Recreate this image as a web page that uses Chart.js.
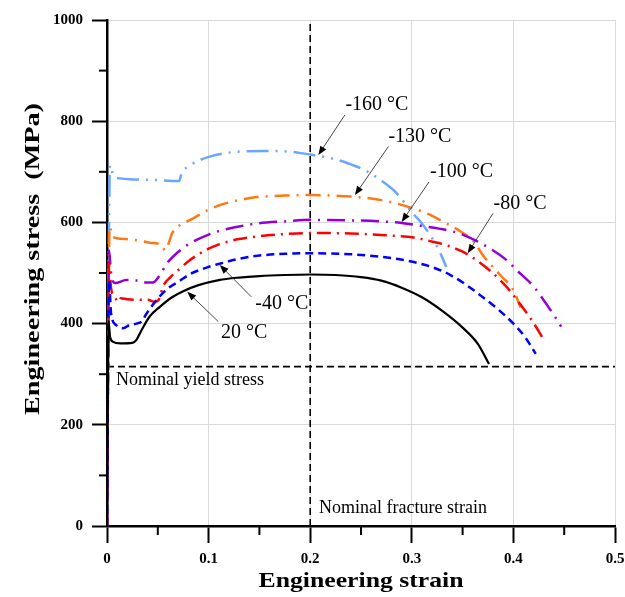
<!DOCTYPE html>
<html>
<head>
<meta charset="utf-8">
<script src="https://cdn.jsdelivr.net/npm/chart.js@4.4.0/dist/chart.umd.min.js"></script>
<style>
  html, body { margin: 0; padding: 0; background: #fff; }
  #graph { display: block; }
</style>
</head>
<body>
<canvas id="graph" width="625" height="597"></canvas>
<script>
// ticks
const xTicks = [0, 0.1, 0.2, 0.3, 0.4, 0.5];
const xMinor = [0.05, 0.15, 0.25, 0.35, 0.45];
const yTicks = [0, 200, 400, 600, 800, 1000];
const yMinor = [100, 300, 500, 700, 900];

// 20 °C
const strain20 = [0, 0.0015, 0.003, 0.006, 0.013, 0.025, 0.029, 0.034, 0.042, 0.052, 0.064, 0.075, 0.09, 0.11, 0.13, 0.15, 0.175, 0.2, 0.225, 0.25, 0.27, 0.29, 0.31, 0.33, 0.35, 0.365, 0.376];
const stress20 = [0, 405, 374, 364, 361, 362, 368, 387, 414, 433, 452, 464, 476, 486, 491, 494, 496, 497, 496, 492, 485, 471, 452, 425, 392, 360, 320];

// -40 °C
const strainM40 = [0, 0.002, 0.004, 0.009, 0.016, 0.022, 0.029, 0.034, 0.039, 0.049, 0.059, 0.072, 0.082, 0.1, 0.114, 0.13, 0.148, 0.175, 0.2, 0.24, 0.27, 0.288, 0.305, 0.321, 0.338, 0.354, 0.37, 0.385, 0.4, 0.412, 0.422];
const stressM40 = [0, 486, 420, 397, 391, 397, 400, 404, 420, 447, 468, 485, 498, 512, 520, 528, 534, 538, 539, 537, 532, 527, 520, 511, 496, 476, 452, 428, 400, 372, 340];

// -80 °C
const strainM80 = [0, 0.001, 0.002, 0.004, 0.0075, 0.0115, 0.0135, 0.02, 0.029, 0.04, 0.047, 0.051, 0.055, 0.063, 0.072, 0.082, 0.1, 0.114, 0.13, 0.147, 0.175, 0.2, 0.24, 0.27, 0.302, 0.318, 0.334, 0.348, 0.361, 0.375, 0.387, 0.397, 0.406, 0.419, 0.429];
const stressM80 = [0, 300, 520, 470, 453, 443, 450, 448, 447, 447, 443, 447, 473, 493, 509, 526, 548, 559, 567, 572, 577, 579, 578, 575, 570, 563, 555, 544, 529, 508, 486, 464, 440, 404, 371];

// -100 °C
const strainM100 = [0, 0.001, 0.002, 0.004, 0.008, 0.019, 0.029, 0.036, 0.045, 0.052, 0.059, 0.072, 0.082, 0.1, 0.114, 0.13, 0.148, 0.175, 0.2, 0.24, 0.27, 0.29, 0.31, 0.334, 0.35, 0.374, 0.393, 0.403, 0.42, 0.433, 0.443, 0.447];
const stressM100 = [0, 300, 545, 500, 480, 486, 485, 481, 481, 496, 519, 545, 559, 576, 585, 592, 598, 602, 605, 604, 602, 599, 593, 585, 576, 552, 526, 506, 473, 437, 407, 394];

// -130 °C
const strainM130 = [0, 0.001, 0.0025, 0.006, 0.019, 0.032, 0.042, 0.054, 0.057, 0.06, 0.064, 0.072, 0.082, 0.1, 0.114, 0.13, 0.148, 0.175, 0.2, 0.24, 0.27, 0.301, 0.318, 0.334, 0.348, 0.361, 0.37, 0.387, 0.4, 0.407];
const stressM130 = [0, 300, 591, 571, 567, 564, 560, 555, 545, 555, 578, 595, 605, 625, 636, 644, 650, 653, 654, 651, 644, 628, 615, 598, 582, 562, 535, 496, 466, 432];

// -160 °C
const strainM160 = [0, 0.001, 0.003, 0.006, 0.013, 0.026, 0.045, 0.071, 0.0735, 0.082, 0.101, 0.131, 0.155, 0.18, 0.2, 0.22, 0.237, 0.255, 0.269, 0.285, 0.301, 0.31, 0.318, 0.326, 0.334];
const stressM160 = [0, 350, 713, 694, 687, 685, 684, 682, 697, 713, 730, 740, 741, 740, 734, 727, 717, 702, 684, 658, 618, 598, 575, 548, 512];

// reference lines
const yieldStress = 315;
const fractureStrain = 0.2;

// curve labels: text, text centre, arrow start, arrow tip (data coords)
const labels = ['-160 °C', '-130 °C', '-100 °C', '-80 °C', '-40 °C', '20 °C'];
const labelAt = [[0.2657, 832], [0.308, 769], [0.349, 700], [0.4065, 636], [0.172, 439], [0.135, 381]];
const arrowFrom = [[0.234, 812], [0.277, 750], [0.317, 680], [0.38, 618], [0.142, 453], [0.1095, 404]];
const arrowTo = [[0.208, 733], [0.244, 654], [0.29, 601], [0.355, 539], [0.111, 516], [0.079, 463]];

function pts(xs, ys) {
  return xs.map((x, i) => ({ x: x, y: ys[i] }));
}

const SERIF = '"Liberation Serif", "DejaVu Serif", serif';

const curves = [
  { data: pts(strain20, stress20), color: '#000000', dash: [], width: 2.2 },
  { data: pts(strainM40, stressM40), color: '#0000ff', dash: [8, 5], width: 2.5 },
  { data: pts(strainM80, stressM80), color: '#ff0000', dash: [14, 6, 2, 6], width: 2.5 },
  { data: pts(strainM100, stressM100), color: '#9400d3', dash: [18, 7, 2, 7], width: 2.5 },
  { data: pts(strainM130, stressM130), color: '#ff7814', dash: [15, 7, 2, 7], width: 2.5 },
  { data: pts(strainM160, stressM160), color: '#6aa6ff', dash: [22, 7, 2, 7, 2, 7], width: 2.5 }
];

const datasets = curves.map(c => ({
  data: c.data,
  borderColor: c.color,
  borderWidth: c.width,
  borderDash: c.dash,
  pointRadius: 0,
  fill: false,
  cubicInterpolationMode: 'monotone'
}));

datasets.push({
  data: [{ x: 0, y: yieldStress }, { x: 0.5, y: yieldStress }],
  borderColor: '#000', borderWidth: 1.6, borderDash: [7, 4], pointRadius: 0, fill: false
});
datasets.push({
  data: [{ x: fractureStrain, y: 0 }, { x: fractureStrain, y: 1000 }],
  borderColor: '#000', borderWidth: 1.6, borderDash: [7, 4], pointRadius: 0, fill: false
});

// minor ticks, axis titles and curve labels
const extras = {
  id: 'extras',
  afterDraw(chart) {
    const ctx = chart.ctx;
    const xs = chart.scales.x, ys = chart.scales.y;
    const area = chart.chartArea;
    ctx.save();
    ctx.strokeStyle = '#000';
    ctx.lineWidth = 2;
    xMinor.forEach(v => {
      const px = xs.getPixelForValue(v);
      ctx.beginPath(); ctx.moveTo(px, area.bottom); ctx.lineTo(px, area.bottom + 9); ctx.stroke();
    });
    yMinor.forEach(v => {
      const py = ys.getPixelForValue(v);
      ctx.beginPath(); ctx.moveTo(area.left, py); ctx.lineTo(area.left - 8, py); ctx.stroke();
    });

    // axis titles, stretched a bit like the original
    ctx.fillStyle = '#000';
    ctx.textAlign = 'center';
    ctx.textBaseline = 'middle';
    ctx.font = 'bold 22px ' + SERIF;
    let w = ctx.measureText('Engineering strain').width;
    ctx.save();
    ctx.translate(361, 581);
    ctx.scale(205 / w, 1);
    ctx.fillText('Engineering strain', 0, 0);
    ctx.restore();

    ctx.font = 'bold 22px ' + SERIF;
    w = ctx.measureText('Engineering stress  (MPa)').width;
    ctx.save();
    ctx.translate(33, 259);
    ctx.rotate(-Math.PI / 2);
    ctx.scale(312 / w, 1);
    ctx.fillText('Engineering stress  (MPa)', 0, 0);
    ctx.restore();

    // reference line texts
    ctx.textAlign = 'left';
    ctx.font = '18px ' + SERIF;
    ctx.fillText('Nominal yield stress', xs.getPixelForValue(0.0089), ys.getPixelForValue(289));
    ctx.fillText('Nominal fracture strain', xs.getPixelForValue(0.2087), ys.getPixelForValue(36));

    // curve labels with arrows
    ctx.textAlign = 'center';
    ctx.font = '20px ' + SERIF;
    labels.forEach((t, i) => {
      ctx.fillStyle = '#000';
      ctx.fillText(t, xs.getPixelForValue(labelAt[i][0]), ys.getPixelForValue(labelAt[i][1]));
      const x0 = xs.getPixelForValue(arrowFrom[i][0]), y0 = ys.getPixelForValue(arrowFrom[i][1]);
      const x1 = xs.getPixelForValue(arrowTo[i][0]), y1 = ys.getPixelForValue(arrowTo[i][1]);
      const a = Math.atan2(y1 - y0, x1 - x0);
      ctx.strokeStyle = '#333';
      ctx.lineWidth = 0.9;
      ctx.setLineDash([]);
      ctx.beginPath(); ctx.moveTo(x0, y0); ctx.lineTo(x1 - 6 * Math.cos(a), y1 - 6 * Math.sin(a)); ctx.stroke();
      ctx.fillStyle = '#000';
      ctx.beginPath();
      ctx.moveTo(x1, y1);
      ctx.lineTo(x1 - 9 * Math.cos(a) + 3.5 * Math.sin(a), y1 - 9 * Math.sin(a) - 3.5 * Math.cos(a));
      ctx.lineTo(x1 - 9 * Math.cos(a) - 3.5 * Math.sin(a), y1 - 9 * Math.sin(a) + 3.5 * Math.cos(a));
      ctx.closePath();
      ctx.fill();
    });
    ctx.restore();
  }
};

const chart = new Chart(document.getElementById('graph'), {
  type: 'line',
  data: { datasets: datasets },
  plugins: [extras],
  options: {
    responsive: false,
    animation: false,
    devicePixelRatio: 1,
    layout: { padding: { top: 20, right: 10, left: 0, bottom: 0 } },
    plugins: { legend: { display: false }, tooltip: { enabled: false } },
    scales: {
      x: {
        type: 'linear',
        min: 0,
        max: 0.5,
        afterFit: s => { s.height = 71; s.paddingRight = 0; s.paddingLeft = 0; },
        afterBuildTicks: s => { s.ticks = xTicks.map(v => ({ value: v })); },
        grid: { color: '#d9d9d9', lineWidth: 1, tickColor: '#000', tickWidth: 2, tickLength: 17 },
        border: { color: '#000', width: 2.5 },
        ticks: {
          color: '#000',
          padding: 7,
          font: { family: SERIF, size: 15, weight: 'bold' },
          callback: v => v === 0 ? '0' : v.toFixed(1)
        }
      },
      y: {
        type: 'linear',
        min: 0,
        max: 1000,
        afterFit: s => { s.width = 107; },
        afterBuildTicks: s => { s.ticks = yTicks.map(v => ({ value: v })); },
        grid: { color: '#d9d9d9', lineWidth: 1, tickColor: '#000', tickWidth: 2, tickLength: 15 },
        border: { color: '#000', width: 2.5 },
        ticks: {
          color: '#000',
          padding: 9,
          font: { family: SERIF, size: 15, weight: 'bold' },
          callback: v => String(v)
        }
      }
    }
  }
});
</script>
</body>
</html>
